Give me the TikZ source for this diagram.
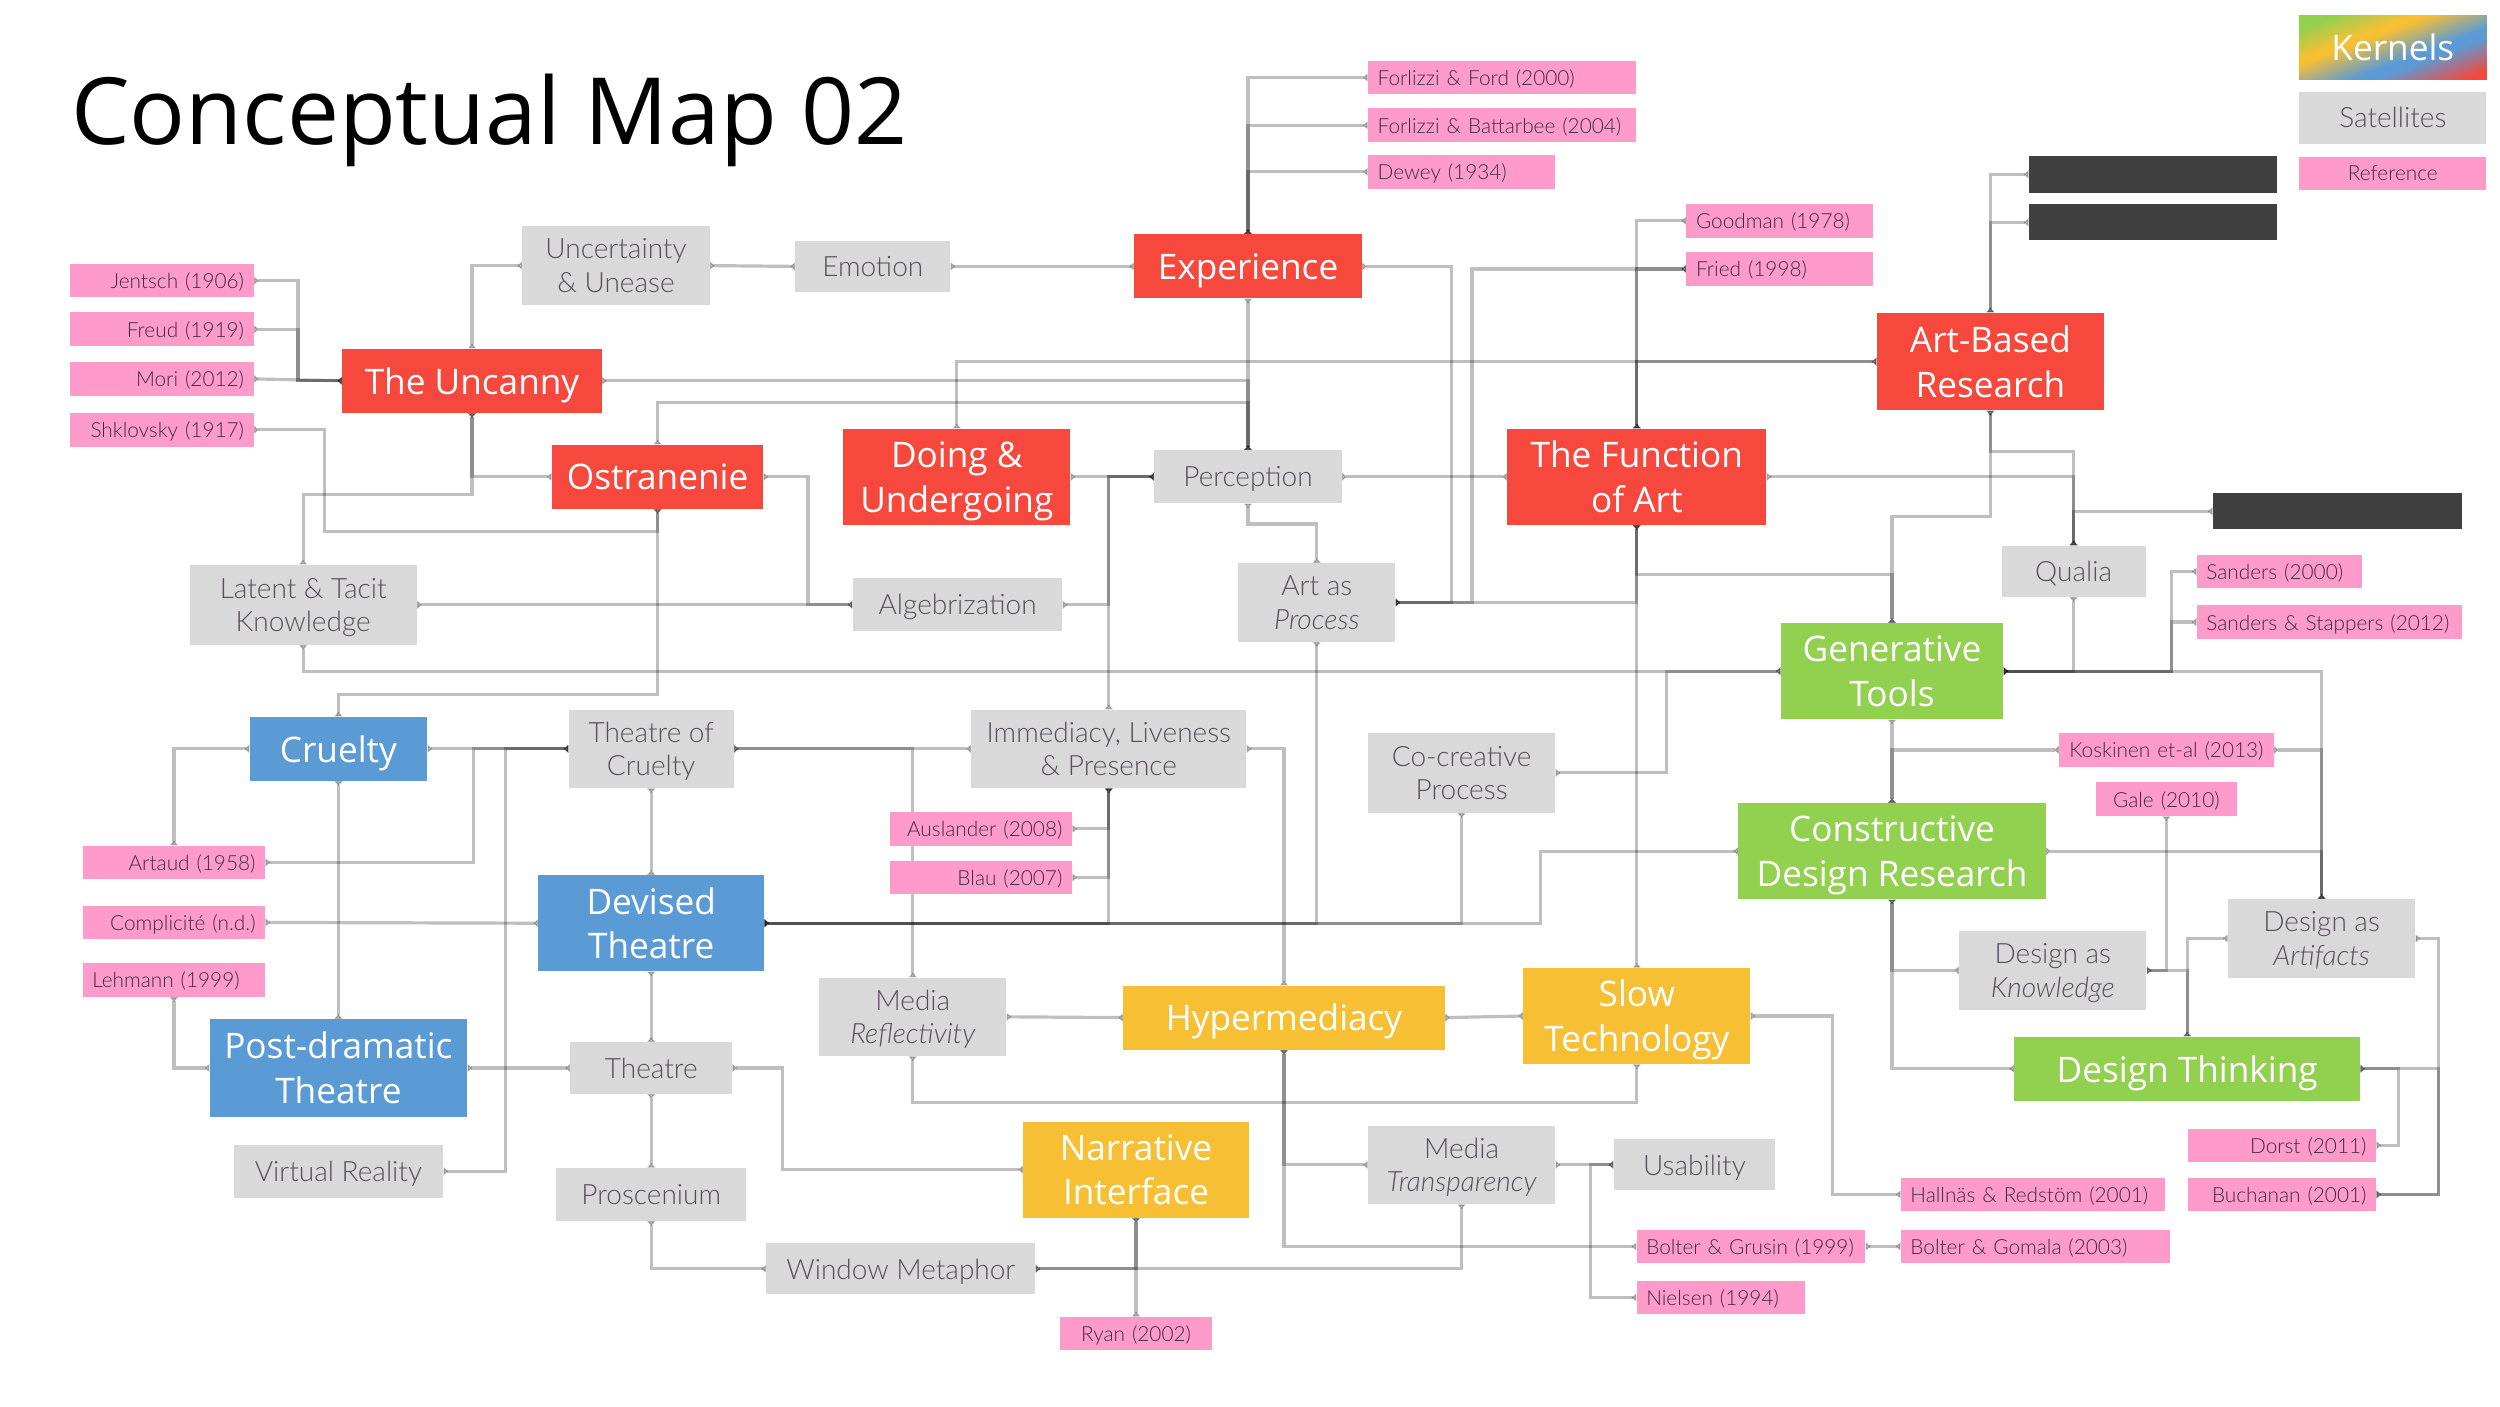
\documentclass[tikz,border=0pt]{standalone}
\usepackage{fontspec}
\usetikzlibrary{arrows.meta,backgrounds}
\newfontfamily\opensans{Open Sans}
\newfontfamily\latolight{Lato Light}
\definecolor{kernelred}{RGB}{246,72,60}
\definecolor{kernelblue}{RGB}{91,155,213}
\definecolor{kernelgreen}{RGB}{146,208,80}
\definecolor{kernelyellow}{RGB}{247,192,52}
\definecolor{satgray}{RGB}{217,217,217}
\definecolor{sattext}{RGB}{89,78,92}
\definecolor{refpink}{RGB}{255,155,202}
\definecolor{reftext}{RGB}{60,44,60}
\definecolor{hidden}{RGB}{64,64,64}
\pgfdeclarehorizontalshading{kernelshade}{100bp}{color(0bp)=(kernelgreen); color(38bp)=(kernelgreen); color(40bp)=(kernelgreen); color(45.5bp)=(kernelyellow); color(46.5bp)=(kernelyellow); color(53bp)=(kernelblue); color(54.5bp)=(kernelblue); color(61bp)=(kernelred); color(100bp)=(kernelred)}

\begin{document}
\begin{tikzpicture}[x=1pt,y=-1pt,
    wh/.style 2 args={minimum width=#1pt,minimum height=#2pt},
    kernel/.style={fill=#1,text=white,inner sep=0pt,text depth=0pt,align=center,font=\opensans\fontsize{22}{28}\selectfont},
    sat/.style={fill=satgray,text=sattext,inner sep=0pt,text depth=-3pt,align=center,font=\latolight\fontsize{17.5}{21}\selectfont},
    ref/.style={fill=refpink,text=reftext,inner xsep=6pt,inner ysep=0pt,text depth=0pt,minimum height=21pt,font=\latolight\fontsize{13}{15}\selectfont},
    refr/.style={ref,align=right,text width=#1pt},
    refl/.style={ref,align=left,text width=#1pt},
    refc/.style={ref,align=center,text width=#1pt},
    hiddenbox/.style={fill=hidden,inner sep=0pt},
    link/.style={line width=2pt,opacity=.25,{Triangle[reversed,length=3pt,width=5pt]}-{Triangle[reversed,length=3pt,width=5pt]}}]
    \useasboundingbox (0,0) rectangle (1562.5,878.75);

    \node[anchor=base west,font=\opensans\fontsize{58}{70}\selectfont] (title) at (41,90) {Conceptual Map 02};

    \node[text=white,inner sep=0pt,text depth=0pt,wh={117}{39.4},font=\opensans\fontsize{22}{28}\selectfont] (kernels) at (1495.5,29.7) {Kernels};
    \node[sat,wh={117}{32.4}] (satellites) at (1495.5,73.6) {Satellites};
    \node[refc=105,minimum height=20.5pt] (reference) at (1495.5,108.3) {Reference};

    \node[kernel=kernelred,wh={162}{40}] (uncanny) at (295,238) {The Uncanny};
    \node[kernel=kernelred,wh={132}{40}] (ostranenie) at (411,298) {Ostranenie};
    \node[kernel=kernelred,wh={142}{40}] (experience) at (780,166.5) {Experience};
    \node[kernel=kernelred,wh={142}{60}] (doing) at (598,298) {Doing \&\\Undergoing};
    \node[kernel=kernelred,wh={162}{60}] (function) at (1023,298) {The Function\\of Art};
    \node[kernel=kernelred,wh={142}{61}] (artbased) at (1244,226) {Art-Based\\Research};
    \node[kernel=kernelblue,wh={111}{40}] (cruelty) at (211.5,468) {Cruelty};
    \node[kernel=kernelblue,wh={141}{60}] (devised) at (407,577) {Devised\\Theatre};
    \node[kernel=kernelblue,wh={161}{61}] (postdramatic) at (211.5,667.5) {Post-dramatic\\Theatre};
    \node[kernel=kernelgreen,wh={139}{60}] (generative) at (1182.5,419.5) {Generative\\Tools};
    \node[kernel=kernelgreen,wh={192}{60}] (constructive) at (1182.5,532) {Constructive\\Design Research};
    \node[kernel=kernelgreen,wh={216}{40}] (designthinking) at (1367,668) {Design Thinking};
    \node[kernel=kernelyellow,wh={201}{40}] (hypermediacy) at (802.5,636) {Hypermediacy};
    \node[kernel=kernelyellow,wh={142}{60}] (slowtech) at (1023,635) {Slow\\Technology};
    \node[kernel=kernelyellow,wh={141}{60}] (narrative) at (710,731) {Narrative\\Interface};

    \node[sat,wh={117}{49}] (uncertainty) at (385,166) {Uncertainty\\\& Unease};
    \node[sat,wh={97}{32}] (emotion) at (545.5,166.5) {Emotion};
    \node[sat,wh={117}{33}] (perception) at (780,298) {Perception};
    \node[sat,wh={98}{49}] (artprocess) at (823,376.5) {Art as\\\textit{Process}};
    \node[sat,wh={142}{50}] (latent) at (189.5,378) {Latent \& Tacit\\Knowledge};
    \node[sat,wh={131}{33}] (algebrization) at (598.5,378) {Algebrization};
    \node[sat,wh={90}{32}] (qualia) at (1296,357) {Qualia};
    \node[sat,wh={103}{49}] (theatrecruelty) at (407,468) {Theatre of\\Cruelty};
    \node[sat,wh={172}{49}] (immediacy) at (693,468) {Immediacy, Liveness\\\& Presence};
    \node[sat,wh={117}{50}] (cocreative) at (913.5,483) {Co-creative\\Process};
    \node[sat,wh={117}{49}] (designknowledge) at (1283,606.5) {Design as\\\textit{Knowledge}};
    \node[sat,wh={117}{49}] (designartifacts) at (1451,586.5) {Design as\\\textit{Artifacts}};
    \node[sat,wh={117}{49}] (mediareflect) at (570.5,635.5) {Media\\\textit{Reflectivity}};
    \node[sat,wh={101}{32}] (theatre) at (407,667.5) {Theatre};
    \node[sat,wh={131}{33}] (virtualreality) at (211.5,732) {Virtual Reality};
    \node[sat,wh={119}{33}] (proscenium) at (407,746.5) {Proscenium};
    \node[sat,wh={168}{32}] (window) at (563,793) {Window Metaphor};
    \node[sat,wh={117}{49}] (mediatransp) at (913.5,728) {Media\\\textit{Transparency}};
    \node[sat,wh={101}{32}] (usability) at (1059,728) {Usability};

    \node[refr=102.5] (jentsch) at (101.3,175.4) {Jentsch (1906)};
    \node[refr=102.5] (freud) at (101.3,205.8) {Freud (1919)};
    \node[refr=102.5] (mori) at (101.3,236.8) {Mori (2012)};
    \node[refr=102.5] (shklovsky) at (101.3,268.6) {Shklovsky (1917)};
    \node[refl=155.6] (forlizziford) at (938.8,48.5) {Forlizzi \& Ford (2000)};
    \node[refl=155.6] (forlizzibatt) at (938.8,78.3) {Forlizzi \& Battarbee (2004)};
    \node[refl=105] (dewey) at (913.5,107.4) {Dewey (1934)};
    \node[refl=104.6] (goodman) at (1112.3,138) {Goodman (1978)};
    \node[refl=104.6] (fried) at (1112.3,168.1) {Fried (1998)};
    \node[refl=91] (sanders) at (1424.5,357.2) {Sanders (2000)};
    \node[refl=154] (sandersstappers) at (1456,388.8) {Sanders \& Stappers (2012)};
    \node[refc=122] (koskinen) at (1354,468.7) {Koskinen et-al (2013)};
    \node[refc=76] (gale) at (1354,499.5) {Gale (2010)};
    \node[refr=105.5] (dorst) at (1426.3,715.8) {Dorst (2011)};
    \node[refr=105.5] (buchanan) at (1426.3,746.5) {Buchanan (2001)};
    \node[refl=153] (hallnas) at (1270.5,746.5) {Hallnäs \& Redstöm (2001)};
    \node[refl=156] (boltergomala) at (1272,779) {Bolter \& Gomala (2003)};
    \node[refl=131] (boltergrusin) at (1094.4,779) {Bolter \& Grusin (1999)};
    \node[refl=93] (nielsen) at (1075.4,811) {Nielsen (1994)};
    \node[refc=83.6] (ryan) at (710,833.5) {Ryan (2002)};
    \node[refr=102] (auslander) at (613,518) {Auslander (2008)};
    \node[refr=102] (blau) at (613,548.4) {Blau (2007)};
    \node[refr=102] (artaud) at (108.7,539) {Artaud (1958)};
    \node[refr=102] (complicite) at (108.7,576.5) {Complicité (n.d.)};
    \node[refl=102] (lehmann) at (108.7,612.5) {Lehmann (1999)};

    \node[hiddenbox,wh={155}{23}] (hiddenone) at (1345.5,109) {};
    \node[hiddenbox,wh={155}{22.6}] (hiddentwo) at (1345.5,139) {};
    \node[hiddenbox,wh={156}{22.4}] (hiddenthree) at (1461,319.6) {};

    \begin{scope}[on background layer]
    \fill[white] (0,0) rectangle (1562.5,878.75);
    \begin{scope}
    \clip (kernels.north west) rectangle (kernels.south east);
    \shade[shading=kernelshade,shading angle=-69] ([shift={(-80,-80)}]kernels.center) rectangle ([shift={(80,80)}]kernels.center);
    \end{scope}
    \draw[link] (jentsch.east) -- ++(27.5,0) |- (uncanny.west);
    \draw[link] (freud.east) -- ++(27.5,0) |- (uncanny.west);
    \draw[link] (mori.east) -- (uncanny.west);
    \draw[link] (shklovsky.east) -| (203,332) -| (ostranenie.south);
    \draw[link] (uncanny.north) |- (uncertainty.west);
    \draw[link] (uncertainty.east) -- (emotion.west);
    \draw[link] (emotion.east) -- (experience.west);
    \draw[link] (uncanny.south) |- (ostranenie.west);
    \draw[link] (uncanny.south) |- (189.5,309) -- (latent.north);
    \draw[link] (ostranenie.south) |- (211.5,434) -- (cruelty.north);
    \draw[link] (uncanny.east) -| (perception.north);
    \draw[link] (ostranenie.north) |- (780,251.7) -- (perception.north);
    \draw[link] (experience.south) -- (perception.north);
    \draw[link] (experience.north) |- (forlizziford.west);
    \draw[link] (experience.north) |- (forlizzibatt.west);
    \draw[link] (experience.north) |- (dewey.west);
    \draw[link] (doing.north) |- (artbased.west);
    \draw[link] (function.north) |- (artbased.west);
    \draw[link] (function.north) |- (goodman.west);
    \draw[link] (function.north) |- (fried.west);
    \draw[link] (artprocess.east) -| (920,168.1) -- (fried.west);
    \draw[link] (experience.east) -| (907,376.5) -- (artprocess.east);
    \draw[link] (function.south) |- (artprocess.east);
    \draw[link] (function.south) -- (slowtech.north);
    \draw[link] (function.south) |- (1182.5,359) -- (generative.north);
    \draw[link] (artbased.south) |- (1182.5,322.8) -- (generative.north);
    \draw[link] (artbased.north) |- (hiddenone.west);
    \draw[link] (artbased.north) |- (hiddentwo.west);
    \draw[link] (artbased.south) |- (1296,282) -- (qualia.north);
    \draw[link] (function.east) -| (qualia.north);
    \draw[link] (qualia.north) |- (hiddenthree.west);
    \draw[link] (generative.east) -| (qualia.south);
    \draw[link] (generative.east) -| (1357,357.2) -- (sanders.west);
    \draw[link] (generative.east) -| (1357,388.8) -- (sandersstappers.west);
    \draw[link] (generative.east) -| (designartifacts.north);
    \draw[link] (koskinen.east) -| (designartifacts.north);
    \draw[link] (constructive.east) -| (designartifacts.north);
    \draw[link] (koskinen.west) -| (constructive.north);
    \draw[link] (generative.south) -- (constructive.north);
    \draw[link] (constructive.south) |- (designknowledge.west);
    \draw[link] (constructive.south) |- (designthinking.west);
    \draw[link] (gale.south) |- (designknowledge.east);
    \draw[link] (designthinking.north) |- (designknowledge.east);
    \draw[link] (designthinking.north) |- (designartifacts.west);
    \draw[link] (designartifacts.east) -| (1524,746.5) -- (buchanan.east);
    \draw[link] (designthinking.east) -| (1524,746.5) -- (buchanan.east);
    \draw[link] (designthinking.east) -| (1499,715.8) -- (dorst.east);
    \draw[link] (latent.east) -- (algebrization.west);
    \draw[link] (ostranenie.east) -| (505,378) -- (algebrization.west);
    \draw[link] (algebrization.east) -| (693,298) -- (perception.west);
    \draw[link] (doing.east) -- (perception.west);
    \draw[link] (immediacy.north) |- (perception.west);
    \draw[link] (perception.south) |- (823,327.5) -- (artprocess.north);
    \draw[link] (perception.east) -- (function.west);
    \draw[link] (latent.south) |- (generative.west);
    \draw[link] (cocreative.east) -| (1041.6,419.5) -- (generative.west);
    \draw[link] (cruelty.west) -| (artaud.north);
    \draw[link] (cruelty.east) -- (theatrecruelty.west);
    \draw[link] (artaud.east) -| (296,468) -- (theatrecruelty.west);
    \draw[link] (virtualreality.east) -| (315.7,468) -- (theatrecruelty.west);
    \draw[link] (cruelty.south) -- (postdramatic.north);
    \draw[link] (complicite.east) -- (devised.west);
    \draw[link] (lehmann.south) |- (postdramatic.west);
    \draw[link] (postdramatic.east) -- (theatre.west);
    \draw[link] (theatrecruelty.south) -- (devised.north);
    \draw[link] (devised.south) -- (theatre.north);
    \draw[link] (theatre.south) -- (proscenium.north);
    \draw[link] (proscenium.south) |- (window.west);
    \draw[link] (theatre.east) -| (489,731) -- (narrative.west);
    \draw[link] (window.east) -| (mediatransp.south);
    \draw[link] (narrative.south) |- (window.east);
    \draw[link] (narrative.south) -- (ryan.north);
    \draw[link] (theatrecruelty.east) -- (immediacy.west);
    \draw[link] (theatrecruelty.east) -| (mediareflect.north);
    \draw[link] (mediareflect.east) -- (hypermediacy.west);
    \draw[link] (mediareflect.south) |- (1023,688.8) -- (slowtech.south);
    \draw[link] (hypermediacy.east) -- (slowtech.west);
    \draw[link] (immediacy.east) -| (hypermediacy.north);
    \draw[link] (immediacy.south) |- (devised.east);
    \draw[link] (auslander.east) -| (immediacy.south);
    \draw[link] (blau.east) -| (immediacy.south);
    \draw[link] (artprocess.south) |- (devised.east);
    \draw[link] (cocreative.south) |- (devised.east);
    \draw[link] (constructive.west) -| (963,577) -- (devised.east);
    \draw[link] (hypermediacy.south) |- (mediatransp.west);
    \draw[link] (hypermediacy.south) |- (boltergrusin.west);
    \draw[link] (mediatransp.east) -- (usability.west);
    \draw[link] (nielsen.west) -| (994,728) -- (usability.west);
    \draw[link] (boltergrusin.east) -- (boltergomala.west);
    \draw[link] (slowtech.east) -| (1145.4,746.5) -- (hallnas.west);
    \end{scope}
\end{tikzpicture}
\end{document}
